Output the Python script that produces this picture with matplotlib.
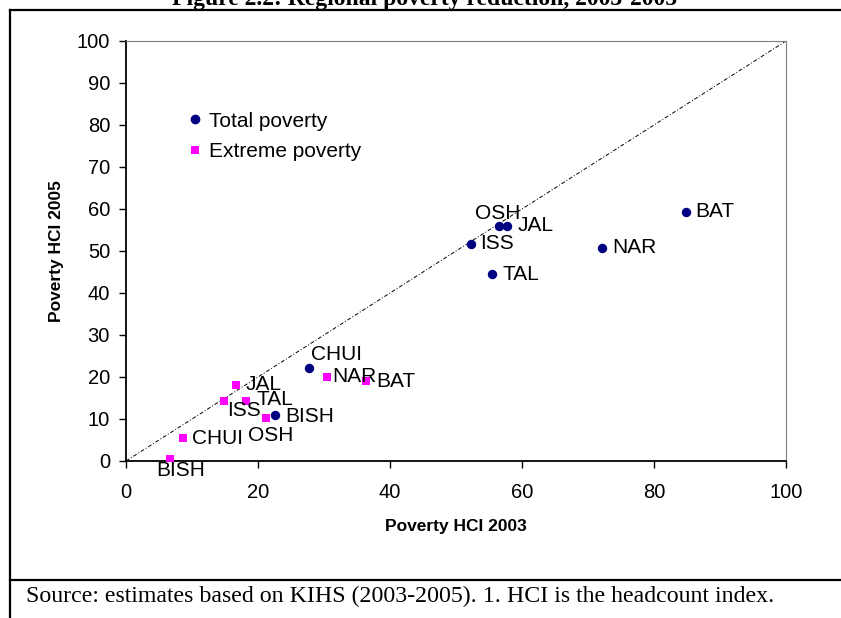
import matplotlib
matplotlib.use('Agg')
from matplotlib import pyplot as plt
from matplotlib.lines import Line2D

plt.rcParams['font.family'] = ['Liberation Sans', 'DejaVu Sans']

# --- Data --- #
regions = ['BAT', 'NAR', 'JAL', 'OSH', 'ISS', 'TAL', 'CHUI', 'BISH']

total_2003 = [84.8, 72.1, 57.8, 56.5, 52.2, 55.4, 27.7, 22.5]
total_2005 = [59.3, 50.8, 56.0, 56.0, 51.7, 44.5, 22.1, 10.9]

extreme_2003 = [36.4, 30.5, 16.7, 21.2, 14.8, 18.2, 8.6, 6.7]
extreme_2005 = [19.0, 20.1, 18.1, 10.3, 14.4, 14.3, 5.4, 0.5]

ticks = [0, 20, 40, 60, 80, 100]
yticks = list(range(0, 101, 10))

# label offsets in pixels (dx, dy, ha)
total_offsets = {'BAT': (10, 0, 'left'), 'NAR': (10, 0, 'left'), 'JAL': (10, 0, 'left'),
                 'OSH': (-1, 12, 'center'), 'ISS': (10, 0, 'left'), 'TAL': (11, 0, 'left'),
                 'CHUI': (2, 14, 'left'), 'BISH': (11, -1, 'left')}
extreme_offsets = {'BAT': (10, 0, 'left'), 'NAR': (5, 0, 'left'), 'JAL': (9, 0, 'left'),
                   'OSH': (5, -18, 'center'), 'ISS': (3, -10, 'left'), 'TAL': (10, 1, 'left'),
                   'CHUI': (9, 0, 'left'), 'BISH': (10, -12, 'center')}

# --- Plotting Section --- #
fig = plt.figure(figsize=(8.41, 6.18), dpi=100)
ax = fig.add_axes([126 / 841, 157 / 618, 660 / 841, 420 / 618])

ax.plot([0, 100], [0, 100], color='black', lw=0.7, linestyle=(0, (4, 2, 1, 2)), zorder=1)

ax.scatter(total_2003, total_2005, s=46, color='#000080', marker='o', zorder=3, linewidths=0)
ax.scatter(extreme_2003, extreme_2005, s=32, color='#FF00FF', marker='s', zorder=3, linewidths=0)

for name, x, y in zip(regions, total_2003, total_2005):
    dx, dy, ha = total_offsets[name]
    ax.annotate(name, (x, y), xytext=(dx, dy), textcoords='offset pixels',
                ha=ha, va='center', fontsize=15, zorder=4)

for name, x, y in zip(regions, extreme_2003, extreme_2005):
    dx, dy, ha = extreme_offsets[name]
    ax.annotate(name, (x, y), xytext=(dx, dy), textcoords='offset pixels',
                ha=ha, va='center', fontsize=15, zorder=4)

ax.set_xlim(0, 100)
ax.set_ylim(0, 100)
ax.set_xticks(ticks)
ax.set_yticks(yticks)
ax.tick_params(labelsize=14.5, length=5, width=1, direction='out')
ax.tick_params(axis='x', pad=11)
ax.tick_params(axis='y', pad=6.5)

for side in ['left', 'bottom']:
    ax.spines[side].set_linewidth(1.3)
    ax.spines[side].set_color('black')
for side in ['top', 'right']:
    ax.spines[side].set_linewidth(0.8)
    ax.spines[side].set_color('#808080')

ax.set_xlabel('Poverty HCI 2003', fontsize=12.5, fontweight='bold', labelpad=12)
ax.set_ylabel('Poverty HCI 2005', fontsize=12.5, fontweight='bold', labelpad=9)

handles = [Line2D([], [], marker='o', color='#000080', linestyle='none', markersize=7, markeredgewidth=0),
           Line2D([], [], marker='s', color='#FF00FF', linestyle='none', markersize=5.8, markeredgewidth=0)]
ax.legend(handles, ['Total poverty', 'Extreme poverty'], loc='upper left',
          bbox_to_anchor=(0.097, 0.832), frameon=False, fontsize=15, borderpad=0,
          handlelength=0.5, handletextpad=0.4, labelspacing=0.55, borderaxespad=0)

# frame around the figure
fig.add_artist(Line2D([10 / 841, 1], [1 - 10 / 618, 1 - 10 / 618], color='black', lw=1.6))
fig.add_artist(Line2D([10 / 841, 10 / 841], [0, 1 - 10 / 618], color='black', lw=1.6))
fig.add_artist(Line2D([10 / 841, 1], [1 - 580 / 618, 1 - 580 / 618], color='black', lw=1.6))

fig.text(425 / 841, 1 - 5 / 618, 'Figure 2.2: Regional poverty reduction, 2003-2005',
         family='Liberation Serif', fontweight='bold', fontsize=17, ha='center', va='baseline')
fig.text(26 / 841, 1 - 596 / 618,
         'Source: estimates based on KIHS (2003-2005). 1. HCI is the headcount index.',
         family='Liberation Serif', fontsize=17.2, ha='left', va='center')

fig.savefig('out.png', dpi=100)
